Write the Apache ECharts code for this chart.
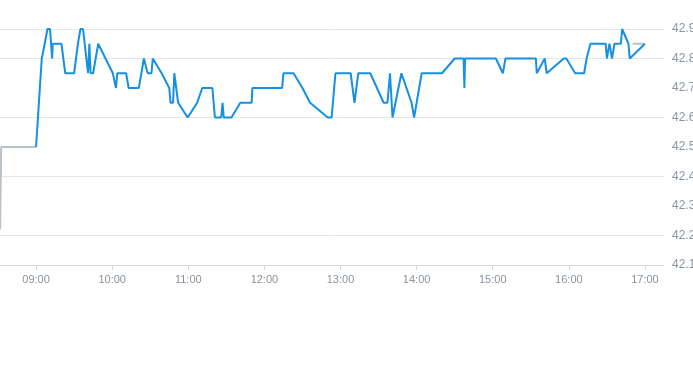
<!DOCTYPE html>
<html>
<head>
<meta charset="utf-8">
<script src="https://cdn.jsdelivr.net/npm/echarts@6/dist/echarts.min.js"></script>
<style>html,body{margin:0;padding:0;background:#fff;}#c{width:693px;height:365px;}</style>
</head>
<body>
<div id="c"></div>
<script>
// ---- data ----
const blueTimes = ['09:00:00','09:04:30','09:05:15','09:06:50','09:08:10','09:09:00','09:11:00','09:12:40','09:13:10','09:20:00',
'09:23:00','09:30:00','09:33:00','09:34:00','09:35:00','09:37:00','09:41:00','09:42:00','09:43:00','09:45:00',
'09:49:00','09:50:00','10:00:30','10:03:00','10:04:00','10:11:00','10:13:00','10:21:00','10:25:00','10:26:00',
'10:28:00','10:31:00','10:32:00','10:39:00','10:45:00','10:46:00','10:48:00','10:49:00','10:52:00','10:59:30',
'11:07:00','11:11:00','11:19:00','11:21:00','11:26:00','11:27:00','11:28:00','11:34:00','11:41:00','11:50:00',
'11:50:30','12:14:00','12:15:00','12:23:00','12:30:00','12:36:00','12:50:00','12:53:00','12:56:00','13:08:00',
'13:11:00','13:14:00','13:23:30','13:34:00','13:37:00','13:39:00','13:41:00','13:48:00','13:56:00','13:58:00',
'14:04:00','14:20:00','14:30:00','14:37:00','14:37:40','14:38:10','15:02:30','15:08:00','15:10:00','15:34:00',
'15:34:40','15:41:00','15:42:30','15:56:00','15:58:00','16:05:00','16:12:00','16:14:00','16:17:00','16:29:00',
'16:30:00','16:32:00','16:34:00','16:36:00','16:41:00','16:42:00','16:47:00','16:48:00','17:00:00'];
const blueValues = [42.5,42.8,42.8,42.85,42.85,42.9,42.9,42.8,42.85,42.85,
42.75,42.75,42.85,42.85,42.9,42.9,42.75,42.85,42.75,42.75,
42.85,42.85,42.75,42.7,42.75,42.75,42.7,42.7,42.8,42.8,
42.75,42.75,42.8,42.75,42.7,42.65,42.65,42.75,42.65,42.6,
42.65,42.7,42.7,42.6,42.6,42.65,42.6,42.6,42.65,42.65,
42.7,42.7,42.75,42.75,42.7,42.65,42.6,42.6,42.75,42.75,
42.65,42.75,42.75,42.65,42.65,42.75,42.6,42.75,42.65,42.6,
42.75,42.75,42.8,42.8,42.7,42.8,42.8,42.75,42.8,42.8,
42.75,42.8,42.75,42.8,42.8,42.75,42.75,42.8,42.85,42.85,
42.8,42.85,42.8,42.85,42.85,42.9,42.85,42.8,42.85];
const greyTimes = ['08:31:40','08:32:30','09:00:00',null,'16:50:20','17:00:00'];
const greyValues = [42.22,42.5,42.5,null,42.85,42.85];
const tickTimes = ['09:00','10:00','11:00','12:00','13:00','14:00','15:00','16:00','17:00'];
const yTicks = [42.1,42.2,42.3,42.4,42.5,42.6,42.7,42.8,42.9];

function toMin(s){ if(s===null) return null; const p=s.split(':').map(Number); return p[0]*60+p[1]+(p[2]||0)/60; }
function fmt(m){ const h=Math.floor(m/60), mm=Math.round(m-h*60); return String(h).padStart(2,'0')+':'+String(mm).padStart(2,'0'); }

const blueData = blueTimes.map((t,i)=>[toMin(t), blueValues[i]]);
const greyData = greyTimes.map((t,i)=> t===null ? [null,null] : [toMin(t), greyValues[i]]);
const tickVals = tickTimes.map(toMin);

const chart = echarts.init(document.getElementById('c'), null, {renderer:'canvas'});
chart.setOption({
  animation:false,
  backgroundColor:'#fff',
  grid:{left:-2, right:29, top:29, bottom:100, containLabel:false, outerBoundsMode:'none'},
  xAxis:{
    type:'value', min:toMin('08:30'), max:toMin('17:15'),
    axisLine:{show:true, lineStyle:{color:'#d5d8dc', width:1}},
    axisTick:{show:true, customValues:tickVals, length:5, lineStyle:{color:'#d5d8dc'}},
    axisLabel:{customValues:tickVals, formatter:v=>fmt(v), color:'#8a939e', fontSize:11, margin:9, fontFamily:'Liberation Sans, Arial, sans-serif'},
    splitLine:{show:false}
  },
  yAxis:{
    type:'value', position:'right', min:42.1, max:42.9, scale:true,
    axisLine:{show:false}, axisTick:{show:false},
    axisLabel:{customValues:yTicks, formatter:v=>v.toFixed(1), color:'#8a939e', fontSize:12, margin:8, fontFamily:'Liberation Sans, Arial, sans-serif'},
    splitLine:{show:true, customValues:yTicks, lineStyle:{color:'#e4e6e9', width:1}}
  },
  series:[
    {type:'line', data:greyData, showSymbol:false, connectNulls:false, lineStyle:{color:'#b9c2ca', width:2}, z:1},
    {type:'line', data:blueData, showSymbol:false, lineStyle:{color:'#1690e0', width:2}, z:2}
  ]
});
</script>
</body>
</html>
